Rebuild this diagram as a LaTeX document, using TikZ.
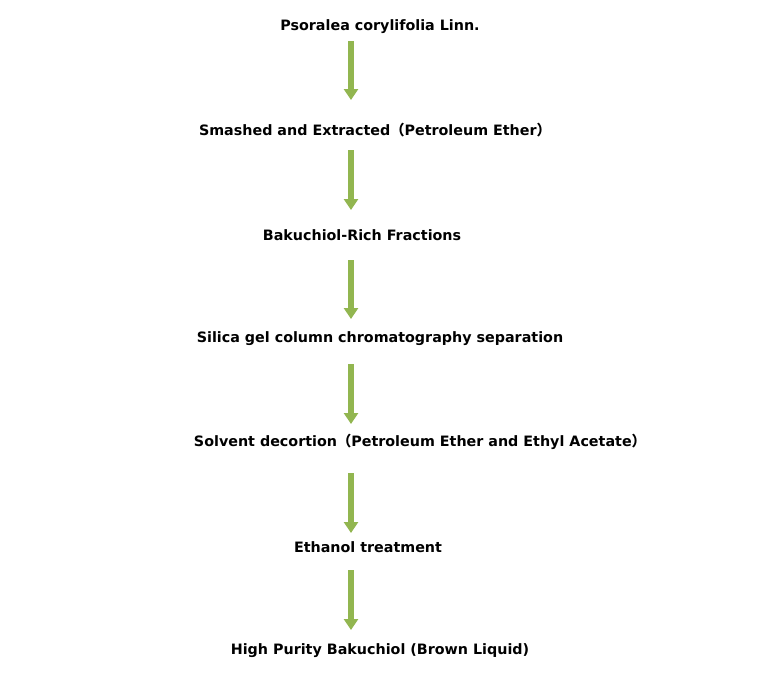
\documentclass[tikz,border=0pt]{standalone}
\usepackage{fontspec}
\setmainfont{DejaVu Sans}
\newfontfamily\cjkf{Noto Sans CJK SC}
\usetikzlibrary{arrows.meta}
\definecolor{arrgreen}{RGB}{146,182,80}
\begin{document}
\begin{tikzpicture}[x=1pt,y=-1pt,
  lbl/.style={font=\bfseries\fontsize{14.3}{16}\selectfont,inner sep=0pt,anchor=center},
  arr/.style={draw=arrgreen,line width=5.5pt,-{Triangle[width=14pt,length=11pt]},arrgreen}]
\useasboundingbox (0,0) rectangle (759,689);
\node[lbl] (t1) at (380,27) {Psoralea corylifolia Linn.};
\node[lbl] (t2) at (375,130) {Smashed and Extracted{\cjkf （}Petroleum Ether{\cjkf ）}};
\node[lbl] (t3) at (362,235) {Bakuchiol-Rich Fractions};
\node[lbl] (t4) at (380,339) {Silica gel column chromatography separation};
\node[lbl] (t5) at (420,442) {Solvent decortion{\cjkf （}Petroleum Ether and Ethyl Acetate{\cjkf ）}};
\node[lbl] (t6) at (368,547) {Ethanol treatment};
\node[lbl] (t7) at (380,651) {High Purity Bakuchiol (Brown Liquid)};
\foreach \i/\a/\b in {1/41/100,2/150/210,3/260/319,4/364/424,5/473/533,6/570/630}{
  \coordinate (s\i) at (351,\a);
  \coordinate (e\i) at (351,\b);
  \draw[arr] (s\i) -- (e\i);
}
\end{tikzpicture}
\end{document}
